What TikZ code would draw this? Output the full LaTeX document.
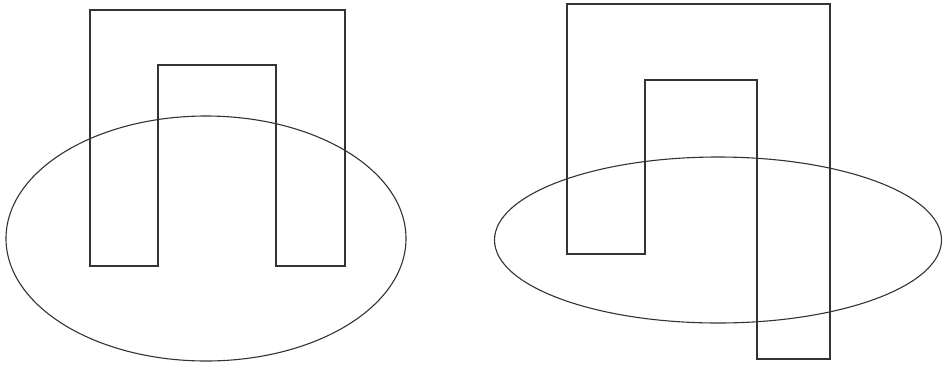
\documentclass[tikz,border=0pt]{standalone}
\begin{document}
\begin{tikzpicture}[x=1pt,y=-1pt,
  shape line/.style={draw=black!80,line width=1.1pt,line join=miter}]
\useasboundingbox (0,0) rectangle (942,365);
% left figure
\draw[shape line] (90,266) -- (90,10) -- (345,10) -- (345,266) -- (276,266) -- (276,65) -- (158,65) -- (158,266) -- cycle;
\draw[shape line] (206,238.5) ellipse [x radius=200, y radius=122.5];
% right figure
\draw[shape line] (567,254) -- (567,4) -- (830,4) -- (830,359) -- (757,359) -- (757,80) -- (645,80) -- (645,254) -- cycle;
\draw[shape line] (718,240) ellipse [x radius=223.5, y radius=83];
\end{tikzpicture}
\end{document}
